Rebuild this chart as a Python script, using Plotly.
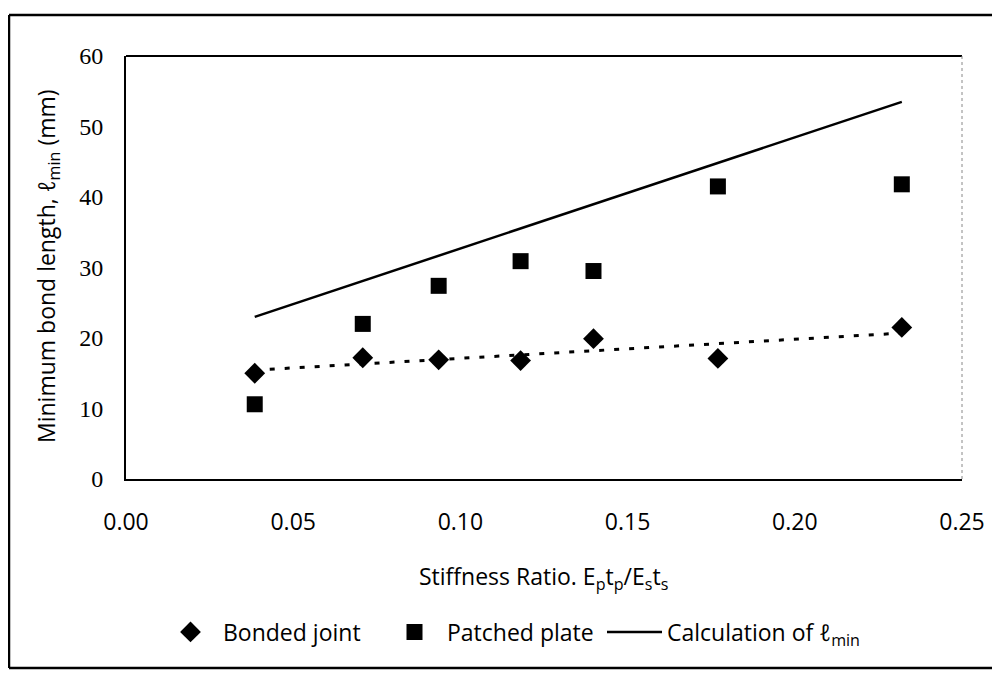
import numpy as np
import plotly.graph_objects as go

# Stiffness ratio E_p t_p / E_s t_s
stiffness = [0.0385, 0.0708, 0.0935, 0.118, 0.1398, 0.177, 0.232]

# Minimum bond length (mm)
bonded_joint = [15.0, 17.2, 16.9, 16.8, 19.9, 17.1, 21.5]
patched_plate = [10.6, 22.0, 27.4, 30.9, 29.5, 41.5, 41.8]
calculation = [23.0, 28.1, 31.7, 35.5, 39.0, 44.9, 53.5]

# the page body has an 8px margin, so lay out in screen pixels and shift
OFF = 8
W, H = 1000 - OFF, 673 - OFF
PLOT_L, PLOT_R, PLOT_T, PLOT_B = 126, 962, 56, 479  # screen pixels
L, T = PLOT_L - OFF, PLOT_T - OFF
R, B = W - (PLOT_R - OFF), H - (PLOT_B - OFF)
PW, PH = PLOT_R - PLOT_L, PLOT_B - PLOT_T


def px_x(x):
    return (x - PLOT_L) / PW


def px_y(y):
    return (PLOT_B - y) / PH


# linear trendline through the bonded-joint points (as the spreadsheet drew it)
slope, icpt = np.polyfit(stiffness, bonded_joint, 1)
trend_x = [stiffness[0], stiffness[-1]]
trend_y = [slope * x + icpt for x in trend_x]

serif = "Liberation Serif, Times New Roman, serif"
sans = "Open Sans, DejaVu Sans, sans-serif"

fig = go.Figure()
fig.add_trace(
    go.Scatter(
        x=trend_x,
        y=trend_y,
        mode="lines",
        line=dict(color="black", width=3, dash="5px,10px"),
        showlegend=False,
        hoverinfo="skip",
    )
)
fig.add_trace(
    go.Scatter(
        x=stiffness,
        y=bonded_joint,
        mode="markers",
        marker=dict(symbol="diamond", size=16, color="black"),
        name="Bonded joint",
        legend="legend",
    )
)
fig.add_trace(
    go.Scatter(
        x=stiffness,
        y=patched_plate,
        mode="markers",
        marker=dict(symbol="square", size=16, color="black"),
        name="Patched plate",
        legend="legend2",
    )
)
fig.add_trace(
    go.Scatter(
        x=stiffness,
        y=calculation,
        mode="lines",
        line=dict(color="black", width=2.5),
        name="Calculation of ℓ<sub>min</sub>",
        legend="legend3",
    )
)

fig.update_xaxes(
    range=[0, 0.25],
    dtick=0.05,
    tickformat=".2f",
    showgrid=False,
    zeroline=False,
    showline=True,
    linecolor="black",
    linewidth=2,
    ticks="",
    ticklabelstandoff=21,
    tickfont=dict(family=sans, size=23, color="black"),
)
fig.update_yaxes(
    range=[0, 60],
    dtick=10,
    showgrid=False,
    zeroline=False,
    showline=True,
    linecolor="black",
    linewidth=2,
    ticks="",
    ticklabelstandoff=16,
    tickfont=dict(family=serif, size=24, color="black"),
)

frame = dict(color="black", width=2.5)
shapes = [
    # top edge of plot area
    dict(type="line", xref="paper", yref="paper", x0=0, x1=1, y0=1, y1=1,
         line=dict(color="black", width=2)),
    # faint dotted right edge
    dict(type="line", xref="paper", yref="paper", x0=1, x1=1, y0=0, y1=1,
         line=dict(color="#888888", width=1, dash="dot")),
    # outer frame
    dict(type="line", xref="paper", yref="paper", x0=px_x(9), x1=px_x(1010),
         y0=px_y(15), y1=px_y(15), line=frame),
    dict(type="line", xref="paper", yref="paper", x0=px_x(9), x1=px_x(9),
         y0=px_y(15), y1=px_y(668), line=frame),
    dict(type="line", xref="paper", yref="paper", x0=px_x(9), x1=px_x(1010),
         y0=px_y(668), y1=px_y(668), line=frame),
]

annotations = [
    dict(
        text="Stiffness Ratio. E<sub>p</sub>t<sub>p</sub>/E<sub>s</sub>t<sub>s</sub>",
        xref="paper", yref="paper", x=px_x(543), y=px_y(577),
        xanchor="center", yanchor="middle", showarrow=False,
        font=dict(family=sans, size=23, color="black"),
    ),
    dict(
        text="Minimum bond length, ℓ<sub>min</sub> (mm)",
        xref="paper", yref="paper", x=px_x(47), y=px_y(266),
        xanchor="center", yanchor="middle", showarrow=False, textangle=-90,
        font=dict(family=sans, size=23, color="black"),
    ),
]

legend_font = dict(family=sans, size=23, color="black")


def legend_at(x_screen):
    return dict(
        orientation="h",
        x=px_x(x_screen),
        y=px_y(632),
        xanchor="left",
        yanchor="middle",
        font=legend_font,
        itemwidth=55,
        bgcolor="rgba(0,0,0,0)",
    )


fig.update_layout(
    width=W,
    height=H,
    margin=dict(l=L, r=R, t=T, b=B),
    paper_bgcolor="white",
    plot_bgcolor="white",
    showlegend=True,
    legend=legend_at(158),
    legend2=legend_at(382),
    legend3=legend_at(602),
    shapes=shapes,
    annotations=annotations,
)

fig.write_html("out.html")
